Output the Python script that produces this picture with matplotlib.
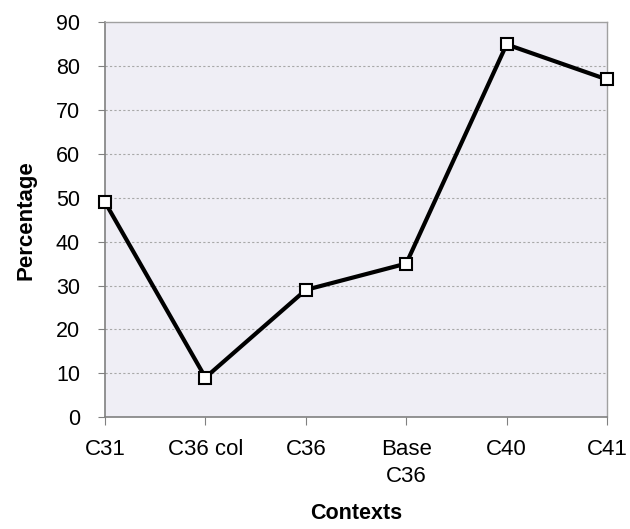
import matplotlib.pyplot as plt

plt.rcParams["font.family"] = ["Liberation Sans", "DejaVu Sans"]

contexts = ["C31", "C36 col", "C36", "Base\nC36", "C40", "C41"]
percentages = [49, 9, 29, 35, 85, 77]
y_ticks = [0, 10, 20, 30, 40, 50, 60, 70, 80, 90]

fig = plt.figure(figsize=(6.3, 5.29), dpi=100)
ax = fig.add_axes([0.1667, 0.2117, 0.7968, 0.7458])
ax.set_facecolor("#EFEEF5")

xs = list(range(len(contexts)))
ax.plot(xs, percentages, color="black", linewidth=3, marker="s",
        markersize=9, markerfacecolor="white", markeredgecolor="black",
        markeredgewidth=1.5, zorder=3, clip_on=False)

ax.set_xlim(0, len(contexts) - 1)
ax.set_ylim(0, 90)
ax.set_yticks(y_ticks)
ax.set_xticks(xs)
ax.set_xticklabels(contexts, fontsize=16, linespacing=1.35)
ax.tick_params(axis="y", labelsize=15.5, length=5, color="#808080", pad=13)
ax.tick_params(axis="x", length=6, color="#808080", pad=10)

for y in y_ticks[1:-1]:
    ax.axhline(y, color="#A8A8A8", linewidth=0.8, linestyle=(0, (2, 2)), zorder=1)

for side in ["top", "right"]:
    ax.spines[side].set_color("#A0A0A0")
    ax.spines[side].set_linewidth(1)
for side in ["left", "bottom"]:
    ax.spines[side].set_color("#808080")
    ax.spines[side].set_linewidth(1.2)

ax.set_ylabel("Percentage", fontsize=16, fontweight="bold", labelpad=14)
ax.set_xlabel("Contexts", fontsize=15.5, fontweight="bold", labelpad=12)

fig.savefig("out.png", dpi=100)
